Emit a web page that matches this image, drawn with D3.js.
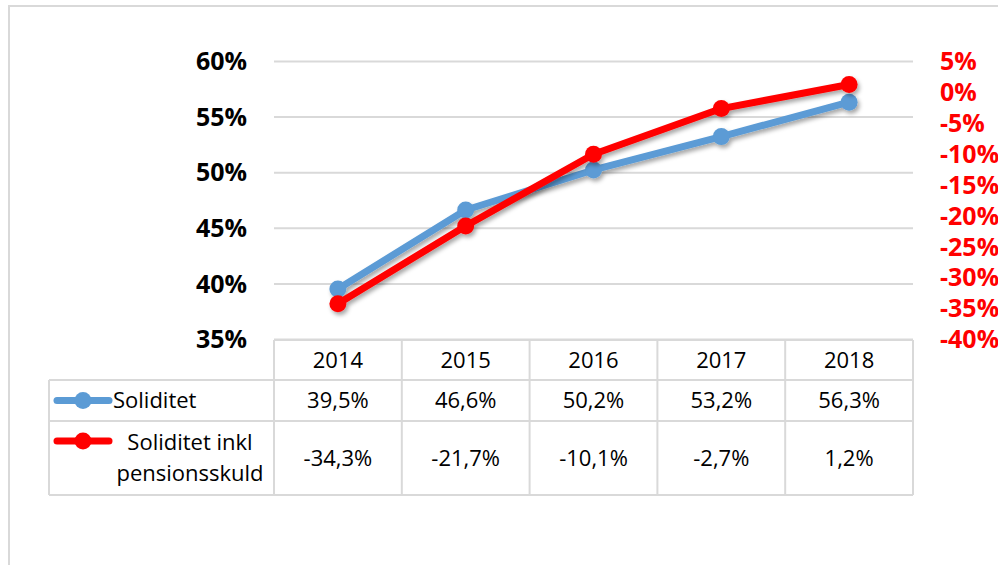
<!DOCTYPE html>
<html>
<head>
<meta charset="utf-8">
<script src="https://cdn.jsdelivr.net/npm/d3@7"></script>
<style>
  body { margin: 0; background: #fff; }
  svg text { font-family: "Open Sans", sans-serif; }
</style>
</head>
<body>
<div id="chart"></div>
<script>
// data
const years = ["2014", "2015", "2016", "2017", "2018"];
const soliditet = [39.5, 46.6, 50.2, 53.2, 56.3];
const soliditetInkl = [-34.3, -21.7, -10.1, -2.7, 1.2];
const leftTicks = [35, 40, 45, 50, 55, 60];
const rightTicks = [-40, -35, -30, -25, -20, -15, -10, -5, 0, 5];
const seriesNames = ["Soliditet", "Soliditet inkl pensionsskuld"];

const W = 998, H = 565;
const plot = { left: 274, right: 913, top: 61, bottom: 339 };

const svg = d3.select("#chart")
  .append("svg")
    .attr("width", W)
    .attr("height", H);

// drop shadow used on lines
const defs = svg.append("defs");
defs.append("filter")
    .attr("id", "shadow")
    .attr("x", "-10%").attr("y", "-10%")
    .attr("width", "120%").attr("height", "130%")
  .append("feDropShadow")
    .attr("dx", 2).attr("dy", 3)
    .attr("stdDeviation", 2)
    .attr("flood-color", "#000")
    .attr("flood-opacity", 0.35);

// outer frame
svg.append("rect")
  .attr("x", 9).attr("y", 6)
  .attr("width", 1100).attr("height", 700)
  .attr("fill", "none")
  .attr("stroke", "#d9d9d9")
  .attr("stroke-width", 2);

const x = d3.scaleBand()
  .domain(years)
  .range([plot.left, plot.right]);

const yL = d3.scaleLinear().domain([35, 60]).range([plot.bottom, plot.top]);
const yR = d3.scaleLinear().domain([-40, 5]).range([plot.bottom, plot.top]);

// left axis + gridlines
const gL = svg.append("g")
  .attr("transform", `translate(${plot.left},0)`)
  .call(d3.axisLeft(yL)
    .tickValues(leftTicks)
    .tickSize(-(plot.right - plot.left))
    .tickPadding(27)
    .tickFormat(d => d + "%"));
gL.select(".domain").remove();
gL.selectAll(".tick line").attr("stroke", "#d9d9d9").attr("stroke-width", 2);
gL.selectAll(".tick text")
  .attr("fill", "#000")
  .attr("font-size", 25)
  .attr("font-weight", "bold")
  .attr("dy", "0.35em");

// right axis
const gR = svg.append("g")
  .attr("transform", `translate(${plot.right},0)`)
  .call(d3.axisRight(yR)
    .tickValues(rightTicks)
    .tickSize(0)
    .tickPadding(27)
    .tickFormat(d => d + "%"));
gR.select(".domain").remove();
gR.selectAll(".tick text")
  .attr("fill", "#ff0000")
  .attr("font-size", 25)
  .attr("font-weight", "bold")
  .attr("dy", "0.35em");

// lines
const cx = d => x(d) + x.bandwidth() / 2;
const series = [
  { values: soliditet, y: yL, color: "#5b9bd5" },
  { values: soliditetInkl, y: yR, color: "#ff0000" }
];

series.forEach(s => {
  const pts = years.map((yr, i) => [cx(yr), s.y(s.values[i])]);
  const g = svg.append("g").attr("filter", "url(#shadow)");
  g.append("path")
    .attr("d", d3.line()(pts))
    .attr("fill", "none")
    .attr("stroke", s.color)
    .attr("stroke-width", 7)
    .attr("stroke-linejoin", "round")
    .attr("stroke-linecap", "round");
  g.selectAll("circle")
    .data(pts)
    .join("circle")
      .attr("cx", d => d[0])
      .attr("cy", d => d[1])
      .attr("r", 8.5)
      .attr("fill", s.color);
});

// data table
const rows = { head: [340, 380], r1: [380, 421], r2: [421, 495] };
const tableLeft = 49;
const grid = svg.append("g")
  .attr("stroke", "#d9d9d9")
  .attr("stroke-width", 2)
  .attr("fill", "none");

// horizontal rules
grid.append("line").attr("x1", plot.left).attr("x2", plot.right)
  .attr("y1", rows.head[0]).attr("y2", rows.head[0]);
[rows.r1[0], rows.r2[0], rows.r2[1]].forEach(yy => {
  grid.append("line").attr("x1", tableLeft).attr("x2", plot.right)
    .attr("y1", yy).attr("y2", yy);
});
// vertical rules
grid.append("line").attr("x1", tableLeft).attr("x2", tableLeft)
  .attr("y1", rows.r1[0]).attr("y2", rows.r2[1]);
years.forEach(yr => {
  grid.append("line").attr("x1", x(yr)).attr("x2", x(yr))
    .attr("y1", rows.head[0]).attr("y2", rows.r2[1]);
});
grid.append("line").attr("x1", plot.right).attr("x2", plot.right)
  .attr("y1", rows.head[0]).attr("y2", rows.r2[1]);

const fmt = v => v.toFixed(1).replace(".", ",") + "%";
const mid = r => (r[0] + r[1]) / 2;

const cell = (tx, ty, str, anchor) => svg.append("text")
  .attr("x", tx).attr("y", ty)
  .attr("dy", "0.35em")
  .attr("text-anchor", anchor || "middle")
  .attr("font-size", 22)
  .attr("fill", "#000")
  .text(str);

years.forEach((yr, i) => {
  cell(cx(yr), mid(rows.head), yr);
  cell(cx(yr), mid(rows.r1), fmt(soliditet[i]));
  cell(cx(yr), mid(rows.r2), fmt(soliditetInkl[i]));
});

// legend keys
const key = (yy, color) => {
  svg.append("line")
    .attr("x1", 57).attr("x2", 109)
    .attr("y1", yy).attr("y2", yy)
    .attr("stroke", color)
    .attr("stroke-width", 7)
    .attr("stroke-linecap", "round");
  svg.append("circle")
    .attr("cx", 83).attr("cy", yy).attr("r", 8.5)
    .attr("fill", color);
};
key(mid(rows.r1), series[0].color);
key(mid(rows.r2) - 17, series[1].color);

cell(113, mid(rows.r1), seriesNames[0], "start");
cell(190, mid(rows.r2) - 16, "Soliditet inkl");
cell(190, mid(rows.r2) + 15, "pensionsskuld");
</script>
</body>
</html>
